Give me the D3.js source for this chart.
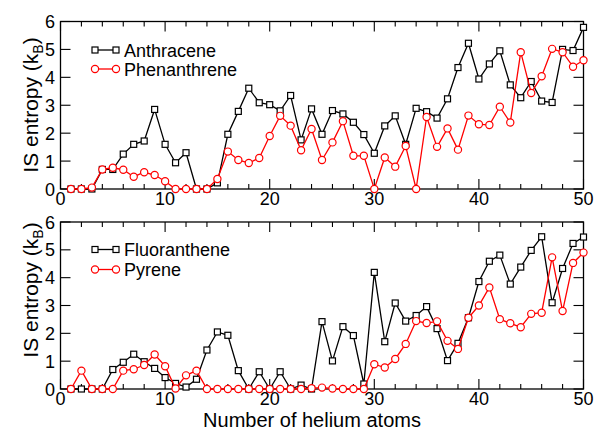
<!DOCTYPE html>
<html>
<head>
<meta charset="utf-8">
<script src="https://cdn.jsdelivr.net/npm/d3@7"></script>
<style>
body{margin:0;background:#fff;}
svg{display:block;font-family:"Liberation Sans",Arial,sans-serif;}
</style>
</head>
<body>
<svg id="chart" width="594" height="431"></svg>
<script>
const atoms = d3.range(1, 51);
const anthracene = [0,0,0,0.7,0.7,1.25,1.6,1.72,2.85,1.6,0.94,1.3,0,0,0.22,1.96,2.78,3.61,3.09,3.02,2.8,3.35,1.76,2.87,1.96,
  2.81,2.69,2.39,1.95,1.28,2.26,2.62,1.6,2.89,2.77,2.54,3.23,4.35,5.22,3.94,4.48,4.95,3.73,3.27,3.85,3.15,3.1,5.0,4.96,5.79];
const phenanthrene = [0,0,0.05,0.7,0.76,0.69,0.44,0.6,0.5,0.28,0,0,0,0,0.36,1.34,1.04,0.93,1.11,1.9,2.62,2.27,1.39,2.15,1.04,
  1.67,2.43,1.19,1.19,0,1.13,0.8,1.54,0,2.58,1.51,2.17,1.41,2.63,2.32,2.29,2.95,2.38,4.9,3.44,4.04,5.02,4.9,4.38,4.61];
const fluoranthene = [0,0,0,0,0.7,0.96,1.25,0.98,0.74,0.41,0.2,0.07,0.35,1.4,2.05,1.93,0.66,0,0.62,0,0.62,0,0.14,0,2.42,
  1.01,2.24,1.92,0.18,4.19,1.7,3.09,2.44,2.64,2.96,2.17,1.02,1.64,2.56,3.86,4.59,4.81,3.77,4.38,4.98,5.47,3.1,4.33,5.23,5.46];
const pyrene = [0,0.66,0,0,0,0.66,0.71,0.86,1.24,0.82,0.02,0.49,0.66,0,0,0,0,0,0,0,0,0,0,0.03,0.05,
  0.02,0,0,0,0.89,0.77,1.08,1.62,2.44,2.37,2.43,1.73,1.44,2.56,3.0,3.65,2.51,2.36,2.22,2.7,2.74,4.73,2.8,4.53,4.9];
const xTicks = [0,10,20,30,40,50];
const yTicks = [0,1,2,3,4,5,6];
const panels = [
  {top:21.5, bottom:189, series:[{name:"Anthracene", values:anthracene, color:"#000", shape:"square"},
                                 {name:"Phenanthrene", values:phenanthrene, color:"#ff0000", shape:"circle"}],
   legendY:[50,69], titleY:105},
  {top:222, bottom:389, series:[{name:"Fluoranthene", values:fluoranthene, color:"#000", shape:"square"},
                                {name:"Pyrene", values:pyrene, color:"#ff0000", shape:"circle"}],
   legendY:[249.5,269.5], titleY:290}
];

const svg = d3.select("#chart");
const x = d3.scaleLinear().domain([0,50]).range([60.5,583.5]);

function marker(g, shape, color, cx, cy){
  if(shape==="square"){
    g.append("rect").attr("x",cx-3).attr("y",cy-3).attr("width",6).attr("height",6)
      .attr("fill","#fff").attr("stroke",color).attr("stroke-width",1.2);
  } else {
    g.append("circle").attr("cx",cx).attr("cy",cy).attr("r",3.6)
      .attr("fill","#fff").attr("stroke",color).attr("stroke-width",1.2);
  }
}

panels.forEach(p=>{
  const y = d3.scaleLinear().domain([0,6]).range([p.bottom,p.top]);
  const g = svg.append("g");
  g.append("rect").attr("x",x(0)).attr("y",y(6)).attr("width",x(50)-x(0)).attr("height",y(0)-y(6))
    .attr("fill","none").attr("stroke","#000").attr("stroke-width",1.3);
  const minor = d3.range(0,51,2);
  minor.forEach(v=>{
    const len = v%10===0 ? 10 : 5;
    g.append("line").attr("x1",x(v)).attr("x2",x(v)).attr("y1",y(0)).attr("y2",y(0)-len).attr("stroke","#000").attr("stroke-width",1.1);
    g.append("line").attr("x1",x(v)).attr("x2",x(v)).attr("y1",y(6)).attr("y2",y(6)+len).attr("stroke","#000").attr("stroke-width",1.1);
  });
  yTicks.forEach(v=>{
    g.append("line").attr("x1",x(0)).attr("x2",x(0)+10).attr("y1",y(v)).attr("y2",y(v)).attr("stroke","#000").attr("stroke-width",1.1);
    g.append("line").attr("x1",x(50)).attr("x2",x(50)-10).attr("y1",y(v)).attr("y2",y(v)).attr("stroke","#000").attr("stroke-width",1.1);
    g.append("text").attr("x",55).attr("y",y(v)+6.5).attr("text-anchor","end").attr("font-size",18).text(v);
  });
  xTicks.forEach(v=>{
    g.append("text").attr("x",x(v)).attr("y",y(0)+15.5).attr("text-anchor","middle").attr("font-size",18).text(v);
  });
  p.series.forEach((s,i)=>{
    const line = d3.line().x((d,j)=>x(atoms[j])).y(d=>y(d));
    g.append("path").datum(s.values).attr("d",line).attr("fill","none").attr("stroke",s.color).attr("stroke-width",1.3);
    s.values.forEach((v,j)=>marker(g,s.shape,s.color,x(atoms[j]),y(v)));
    const ly = p.legendY[i];
    g.append("line").attr("x1",95).attr("x2",116).attr("y1",ly).attr("y2",ly).attr("stroke",s.color).attr("stroke-width",1.3);
    marker(g,s.shape,s.color,95,ly);
    marker(g,s.shape,s.color,116,ly);
    g.append("text").attr("x",124).attr("y",ly+6.5).attr("font-size",18).attr("fill","#000").text(s.name);
  });
  const t = g.append("text").attr("transform",`translate(38,${p.titleY}) rotate(-90)`)
    .attr("text-anchor","middle").attr("font-size",21);
  t.append("tspan").text("IS entropy (k");
  t.append("tspan").attr("font-size",14).attr("dy",5).text("B");
  t.append("tspan").attr("dy",-5).text(")");
});

svg.append("text").attr("x",312).attr("y",426.5).attr("text-anchor","middle").attr("font-size",20).text("Number of helium atoms");
</script>
</body>
</html>
